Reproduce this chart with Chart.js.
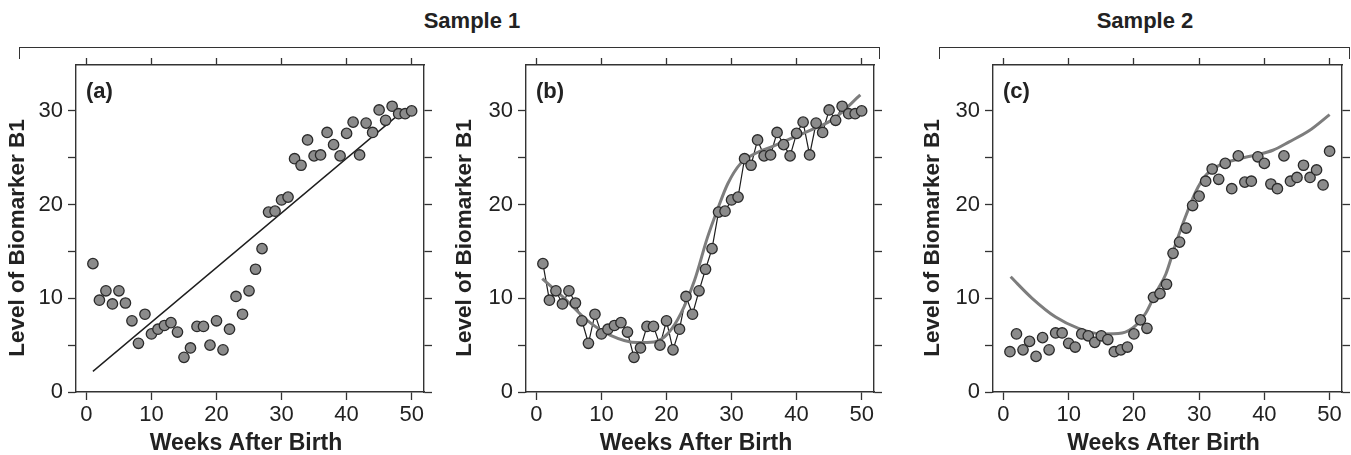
<!DOCTYPE html>
<html><head><meta charset="utf-8">
<script src="https://cdn.jsdelivr.net/npm/chart.js@4.4.1/dist/chart.umd.min.js"></script>
<style>
html,body{margin:0;padding:0;background:#fff;width:1351px;height:455px;overflow:hidden;font-family:"Liberation Sans",Arial,sans-serif;}
canvas{position:absolute;top:0;}
.hdr{position:absolute;font-weight:bold;font-size:22px;line-height:22px;color:#222;transform:translateX(-50%);top:10px;white-space:nowrap;}
.br{position:absolute;top:47px;height:12px;border:1.4px solid #333;border-bottom:none;box-sizing:border-box;}
</style></head>
<body>
<div class="hdr" style="left:472px">Sample 1</div>
<div class="hdr" style="left:1145px">Sample 2</div>
<div class="br" style="left:19px;width:861px"></div>
<div class="br" style="left:939px;width:411px"></div>
<canvas id="ca" width="440" height="455" style="left:0px"></canvas>
<canvas id="cb" width="450" height="455" style="left:440px"></canvas>
<canvas id="cc" width="451" height="455" style="left:900px"></canvas>
<script>
// ---------- data ----------
const weeks = [1,2,3,4,5,6,7,8,9,10,11,12,13,14,15,16,17,18,19,20,21,22,23,24,25,
               26,27,28,29,30,31,32,33,34,35,36,37,38,39,40,41,42,43,44,45,46,47,48,49,50];
const sample1Levels = [13.7,9.8,10.8,9.4,10.8,9.5,7.6,5.2,8.3,6.2,6.7,7.1,7.4,6.4,3.7,4.7,7.0,7.0,5.0,7.6,
                       4.5,6.7,10.2,8.3,10.8,13.1,15.3,19.2,19.3,20.5,20.8,24.9,24.2,26.9,25.2,25.3,27.7,26.4,25.2,27.6,
                       28.8,25.3,28.7,27.7,30.1,29.0,30.5,29.7,29.7,30.0];
const sample2Levels = [4.3,6.2,4.5,5.4,3.8,5.8,4.5,6.3,6.3,5.2,4.8,6.2,6.0,5.3,6.0,5.6,4.3,4.5,4.8,6.2,
                       7.7,6.8,10.1,10.5,11.5,14.8,16.0,17.5,19.9,20.9,22.5,23.8,22.7,24.4,21.7,25.2,22.4,22.5,25.1,24.4,
                       22.2,21.7,25.2,22.5,22.9,24.2,22.9,23.7,22.1,25.7];
// straight-line fit in panel (a): end points
const fitAWeeks = [1, 48.5];
const fitALevels = [2.2, 29.9];
// smooth curve in panel (b)
const curveBWeeks  = [0.9,4.3,7.8,11.4,15.5,18.1,20.2,22.2,24.3,26.3,27.8,29.4,31.4,33.5,36.6,39.6,42.7,45.8,49.8];
const curveBLevels = [12.1,10.0,7.65,6.05,5.27,5.34,6.23,8.36,11.9,16.5,19.4,22.2,24.4,25.4,26.3,27.2,28.1,29.2,31.7];
// smooth curve in panel (c)
const curveCWeeks  = [1.1,4.4,8.0,11.5,15.1,18.2,20.3,21.8,23.3,24.9,26.4,27.9,29.5,31.0,33.1,36.2,38.7,41.3,43.8,46.9,50.0];
const curveCLevels = [12.3,10.0,8.0,6.8,6.2,6.3,7.1,8.4,10.5,12.6,15.8,18.7,21.4,23.1,24.2,24.9,25.3,25.8,26.7,27.9,29.6];
// axes
const xTicks = [0,10,20,30,40,50];
const xTickLabels = ['0','10','20','30','40','50'];
const yTicks = [0,5,10,15,20,25,30];
const yTickLabels = ['0','','10','','20','','30'];
const xRange = [-1.6, 51.9];
const yRange = [0, 34.9];
const panelLabels = ['(a)','(b)','(c)'];
const xTitle = 'Weeks After Birth';
const yTitle = 'Level of Biomarker B1';
const groupTitles = ['Sample 1','Sample 2'];

// ---------- helpers ----------
const FONT = '"Liberation Sans", Arial, Helvetica, sans-serif';
const INK = '#222';
const LINE = '#333';
const pts = (xs, ys) => xs.map((x, i) => ({x: x, y: ys[i]}));

const panelLabelPlugin = {
  id: 'panelLabel',
  beforeDraw(chart) {
    // nudge axis titles to where the reference puts them
    const shifts = {x: [-4, 0], y: [0, 9.5]};
    Object.keys(shifts).forEach(id => {
      const s = chart.scales[id];
      if (s && !s._nudged) {
        const orig = s.drawTitle.bind(s);
        s.drawTitle = function () {
          chart.ctx.save();
          chart.ctx.translate(shifts[id][0], shifts[id][1]);
          orig();
          chart.ctx.restore();
        };
        s._nudged = true;
      }
    });
  },
  afterDraw(chart, args, opts) {
    const {ctx, chartArea} = chart;
    ctx.save();
    ctx.font = 'bold 22px ' + FONT;
    ctx.fillStyle = INK;
    ctx.textBaseline = 'alphabetic';
    ctx.textAlign = 'left';
    ctx.fillText(opts.text, chartArea.left + 10, chartArea.top + 33);
    ctx.restore();
  }
};

function gridOpts() {
  return {drawOnChartArea: false, drawTicks: true, tickLength: 8, tickWidth: 1.3, color: LINE};
}
function borderOpts() {
  return {display: true, color: LINE, width: 1.4};
}
function makeScales(leftW, rightW, titlePad) {
  const tickFont = {family: FONT, size: 22};
  const setX = s => { s.ticks = xTicks.map(v => ({value: v})); };
  const setY = s => { s.ticks = yTicks.map(v => ({value: v})); };
  return {
    x: {
      type: 'linear', position: 'bottom', min: xRange[0], max: xRange[1],
      afterBuildTicks: setX,
      ticks: {font: tickFont, color: INK, padding: 2, maxRotation: 0, autoSkip: false,
              callback: (v, i) => xTickLabels[i]},
      grid: gridOpts(), border: borderOpts(),
      title: {display: true, text: xTitle, color: INK,
              font: {family: FONT, size: 23, weight: 'bold', lineHeight: 1}, padding: {top: 0, bottom: 0}},
      afterFit: s => { s.height = 63; }
    },
    x2: {
      type: 'linear', position: 'top', min: xRange[0], max: xRange[1],
      afterBuildTicks: setX, ticks: {display: false},
      grid: Object.assign(gridOpts(), {tickLength: 7}), border: borderOpts(),
      afterFit: s => { s.height = 65; }
    },
    y: {
      type: 'linear', position: 'left', min: yRange[0], max: yRange[1],
      afterBuildTicks: setY,
      ticks: {font: tickFont, color: INK, padding: 5, autoSkip: false,
              callback: (v, i) => yTickLabels[i]},
      grid: gridOpts(), border: borderOpts(),
      title: {display: true, text: yTitle, color: INK,
              font: {family: FONT, size: 22.5, weight: 'bold', lineHeight: 1}, padding: {top: titlePad, bottom: 0}},
      afterFit: s => { s.width = leftW; }
    },
    y2: {
      type: 'linear', position: 'right', min: yRange[0], max: yRange[1],
      afterBuildTicks: setY, ticks: {display: false},
      grid: gridOpts(), border: borderOpts(),
      afterFit: s => { s.width = rightW; }
    }
  };
}
function pointDataset(ys) {
  return {type: 'scatter', data: pts(weeks, ys), order: 0, showLine: false,
          pointRadius: 5.2, pointHoverRadius: 5.2, backgroundColor: '#8b8b8b',
          borderColor: '#2a2a2a', pointBorderWidth: 1.3, borderWidth: 1.3};
}
function makeChart(id, datasets, label, leftW, rightW, titlePad) {
  return new Chart(document.getElementById(id), {
    type: 'scatter',
    data: {datasets: datasets},
    options: {
      responsive: false, animation: false, events: [],
      layout: {padding: 0},
      plugins: {legend: {display: false}, tooltip: {enabled: false}, panelLabel: {text: label}},
      scales: makeScales(leftW, rightW, titlePad)
    },
    plugins: [panelLabelPlugin]
  });
}

// ---------- panel (a) ----------
makeChart('ca', [
  pointDataset(sample1Levels),
  {type: 'line', data: pts(fitAWeeks, fitALevels), order: 1, borderColor: '#1e1e1e',
   borderWidth: 1.4, pointRadius: 0, tension: 0, fill: false}
], panelLabels[0], 76, 16, 6.5);

// ---------- panel (b) ----------
makeChart('cb', [
  pointDataset(sample1Levels),
  {type: 'line', data: pts(curveBWeeks, curveBLevels), order: 1, borderColor: '#7d7d7d',
   borderWidth: 3, pointRadius: 0, tension: 0.4, cubicInterpolationMode: 'monotone', fill: false},
  {type: 'line', data: pts(weeks, sample1Levels), order: 2, borderColor: '#1e1e1e',
   borderWidth: 1.2, pointRadius: 0, tension: 0, fill: false}
], panelLabels[1], 86, 16, 14);

// ---------- panel (c) ----------
makeChart('cc', [
  pointDataset(sample2Levels),
  {type: 'line', data: pts(curveCWeeks, curveCLevels), order: 1, borderColor: '#7d7d7d',
   borderWidth: 3, pointRadius: 0, tension: 0.4, cubicInterpolationMode: 'monotone', fill: false}
], panelLabels[2], 93, 9, 22);
</script>
</body></html>
